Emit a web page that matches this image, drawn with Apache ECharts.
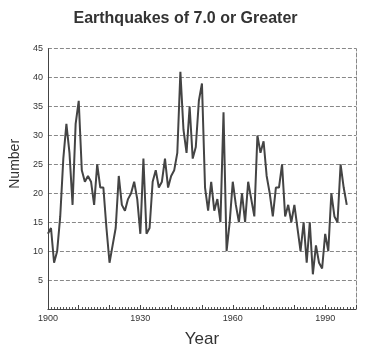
<!DOCTYPE html>
<html>
<head>
<meta charset="utf-8">
<script src="https://cdn.jsdelivr.net/npm/echarts@6/dist/echarts.min.js"></script>
<style>html,body{margin:0;padding:0;background:#fff;}#c{width:371px;height:353px;}</style>
</head>
<body>
<div id="c"></div>
<script>
const startYear = 1900;
const counts = [
  13, 14, 8, 10, 16, 26, 32, 27, 18, 32,
  36, 24, 22, 23, 22, 18, 25, 21, 21, 14,
  8, 11, 14, 23, 18, 17, 19, 20, 22, 19,
  13, 26, 13, 14, 22, 24, 21, 22, 26, 21,
  23, 24, 27, 41, 31, 27, 35, 26, 28, 36,
  39, 21, 17, 22, 17, 19, 15, 34, 10, 15,
  22, 18, 15, 20, 15, 22, 19, 16, 30, 27,
  29, 23, 20, 16, 21, 21, 25, 16, 18, 15,
  18, 14, 10, 15, 8, 15, 6, 11, 8, 7,
  13, 10, 20, 16, 15, 25, 21, 18
];
const years = counts.map((_, i) => startYear + i);
const xTickLabels = [1900, 1930, 1960, 1990];
const yTickLabels = [5, 10, 15, 20, 25, 30, 35, 40, 45];

const data = years.map((y, i) => [y, counts[i]]);
const chart = echarts.init(document.getElementById('c'), null, {renderer: 'canvas'});
const font = 'Liberation Sans, Arial, sans-serif';
chart.setOption({
  animation: false,
  title: {
    text: 'Earthquakes of 7.0 or Greater',
    left: 'center', top: 6,
    textStyle: {fontFamily: font, fontSize: 16, fontWeight: 'bold', color: '#333'}
  },
  grid: {left: 36, right: 15, top: 48.7, bottom: 40},
  xAxis: {
    type: 'value', min: 1900, max: 2000, interval: 10,
    name: 'Year', nameLocation: 'middle', nameGap: 22,
    nameTextStyle: {fontFamily: font, fontSize: 17, color: '#333'},
    axisLine: {lineStyle: {color: '#444', width: 1}},
    axisTick: {show: true, inside: true, length: 4, lineStyle: {color: '#444'}},
    minorTick: {show: true, splitNumber: 10, length: 2, lineStyle: {color: '#555'}},
    splitLine: {show: false},
    axisLabel: {
      fontFamily: font, fontSize: 9, color: '#333', margin: 5,
      formatter: v => xTickLabels.includes(v) ? String(v) : ''
    }
  },
  yAxis: [{
    type: 'value', min: 0, max: 45, interval: 5,
    name: 'Number', nameLocation: 'middle', nameGap: 23, nameRotate: 90,
    nameTextStyle: {fontFamily: font, fontSize: 14, color: '#333', padding: [0, 0, 0, 30]},
    axisLine: {show: true, lineStyle: {color: '#444'}},
    axisTick: {show: false},
    splitLine: {show: true, lineStyle: {color: '#888', type: [4, 2], width: 1}},
    axisLabel: {
      fontFamily: font, fontSize: 9, color: '#333', margin: 5,
      formatter: v => yTickLabels.includes(v) ? String(v) : ''
    }
  }, {
    type: 'value', min: 0, max: 45, interval: 5, position: 'right',
    axisLine: {show: true, lineStyle: {color: '#888', type: [4, 2]}},
    axisTick: {show: false}, axisLabel: {show: false}, splitLine: {show: false}
  }],
  series: [{
    type: 'line', data: data, showSymbol: false, symbol: 'none',
    lineStyle: {color: '#444', width: 2}
  }]
});
</script>
</body>
</html>
